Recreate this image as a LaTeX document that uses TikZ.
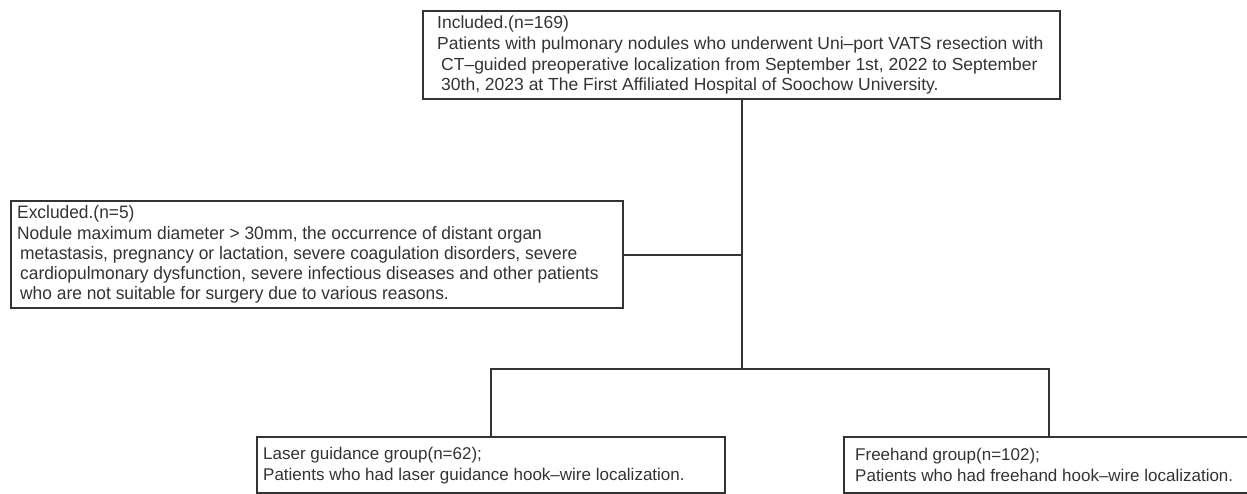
\documentclass[tikz,border=0pt]{standalone}
\usepackage{fontspec}
\setmainfont{Liberation Sans}
\newfontfamily\narrowfont[FakeStretch=0.965]{Liberation Sans}
\definecolor{ink}{HTML}{333333}
\begin{document}
\begin{tikzpicture}[x=1pt,y=-1pt,
  box/.style={draw=ink, line width=2.4pt, rectangle, anchor=north west, inner xsep=0pt, inner ysep=0pt, text=ink},
  link/.style={draw=ink, line width=2pt}]
\useasboundingbox (0,0) rectangle (1247,494);
\clip (0,0) rectangle (1247,494);
\node[box, minimum width=637, minimum height=88] (inc) at (422,10)
 {\hspace*{14pt}\begin{minipage}{620pt}\fontsize{17.5}{20.8}\selectfont
  Included.(n=169)\\
  Patients with pulmonary nodules who underwent Uni–port VATS resection with\\
  \hspace*{4pt}CT–guided preoperative localization from September 1st, 2022 to September\\
  \hspace*{4pt}30th, 2023 at The First Affiliated Hospital of Soochow University.
  \end{minipage}\hspace*{3pt}};
\node[box, minimum width=612, minimum height=107] (exc) at (10,200)
 {\hspace*{6pt}\begin{minipage}{600pt}\narrowfont\fontsize{18}{20.3}\selectfont
  Excluded.(n=5)\\
  Nodule maximum diameter > 30mm, the occurrence of distant organ\\
  \hspace*{3pt}metastasis, pregnancy or lactation, severe coagulation disorders, severe\\
  \hspace*{3pt}cardiopulmonary dysfunction, severe infectious diseases and other patients\\
  \hspace*{3pt}who are not suitable for surgery due to various reasons.
  \end{minipage}\hspace*{6pt}};
\node[box, minimum width=468, minimum height=56] (laser) at (256,436)
 {\hspace*{6pt}\begin{minipage}{455pt}\fontsize{17}{21}\selectfont
  Laser guidance group(n=62);\\
  Patients who had laser guidance hook–wire localization.
  \end{minipage}\hspace*{7pt}};
\node[box, minimum width=409, minimum height=56] (free) at (843,436)
 {\hspace*{11pt}\begin{minipage}{390pt}\fontsize{17}{21}\selectfont
  Freehand group(n=102);\\
  Patients who had freehand hook–wire localization.
  \end{minipage}\hspace*{8pt}};
\coordinate (j) at (inc.south |- 0,369);
\draw[link] (inc.south) -- (j);
\draw[link] (exc.east) -- (exc.east -| inc.south);
\draw[link] (laser.north) |- (j) -| (free.north);
\end{tikzpicture}
\end{document}
